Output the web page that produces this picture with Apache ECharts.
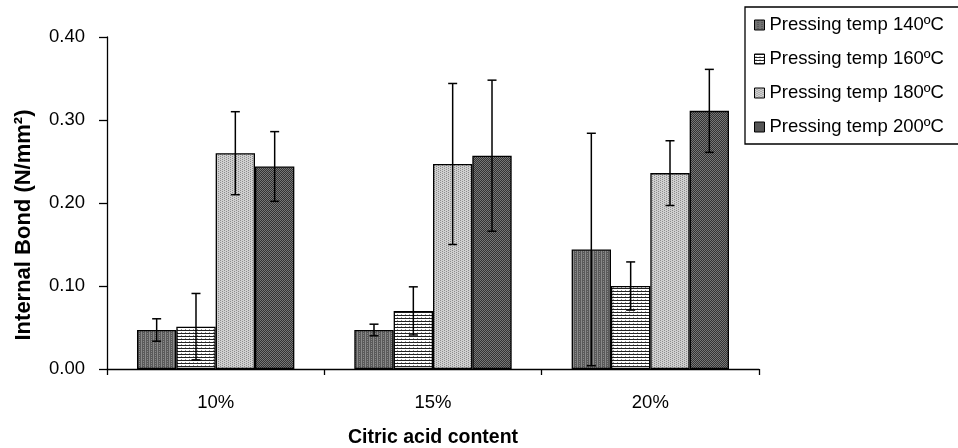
<!DOCTYPE html>
<html>
<head>
<meta charset="utf-8">
<script src="https://cdn.jsdelivr.net/npm/echarts@6/dist/echarts.min.js"></script>
<style>
  html, body { margin: 0; padding: 0; background: #fff; }
  #box1 { width: 958px; height: 448px; }
</style>
</head>
<body>
<div id="box1"></div>
<script>
var categories = ['10%', '15%', '20%'];
var seriesNames = ['Pressing temp 140ºC', 'Pressing temp 160ºC', 'Pressing temp 180ºC', 'Pressing temp 200ºC'];
var ib140 = [0.047, 0.047, 0.144];
var ib160 = [0.051, 0.070, 0.100];
var ib180 = [0.260, 0.247, 0.236];
var ib200 = [0.244, 0.257, 0.311];
var err140 = [0.0135, 0.007, 0.140];
var err160 = [0.040, 0.029, 0.029];
var err180 = [0.050, 0.097, 0.039];
var err200 = [0.042, 0.091, 0.050];
var yTicks = [0, 0.1, 0.2, 0.3, 0.4];

var means = [ib140, ib160, ib180, ib200];
var errs = [err140, err160, err180, err200];

// little canvases to fake the excel hatch fills
function makePattern(w, h, draw) {
  var c = document.createElement('canvas');
  c.width = w; c.height = h;
  var ctx = c.getContext('2d');
  draw(ctx);
  return { image: c, repeat: 'repeat' };
}
var fills = [
  makePattern(4, 2, function (ctx) {
    ctx.fillStyle = '#5a5a5a'; ctx.fillRect(0, 0, 4, 2);
    ctx.fillStyle = '#8a8a8a'; ctx.fillRect(1, 0, 1, 2); ctx.fillRect(3, 1, 1, 1);
  }),
  makePattern(4, 3, function (ctx) {
    ctx.fillStyle = '#ffffff'; ctx.fillRect(0, 0, 4, 3);
    ctx.fillStyle = '#222222'; ctx.fillRect(0, 0, 4, 1);
    ctx.fillStyle = '#999999'; ctx.fillRect(1, 2, 1, 1);
  }),
  makePattern(4, 2, function (ctx) {
    ctx.fillStyle = '#d0d0d0'; ctx.fillRect(0, 0, 4, 2);
    ctx.fillStyle = '#8c8c8c'; ctx.fillRect(0, 0, 1, 1); ctx.fillRect(2, 1, 1, 1);
  }),
  makePattern(2, 2, function (ctx) {
    ctx.fillStyle = '#333333'; ctx.fillRect(0, 0, 2, 2);
    ctx.fillStyle = '#777777'; ctx.fillRect(0, 0, 1, 1); ctx.fillRect(1, 1, 1, 1);
  })
];

var gapPct = 27.6;

var dom = document.getElementById('box1');
var myChart = echarts.init(dom);

var series = [];
seriesNames.forEach(function (name, i) {
  series.push({
    name: name,
    type: 'bar',
    data: means[i],
    barGap: '0%',
    barCategoryGap: gapPct + '%',
    itemStyle: { color: fills[i], borderColor: '#000', borderWidth: 1.3 },
    emphasis: { disabled: true }
  });
});
seriesNames.forEach(function (name, i) {
  series.push({
    type: 'custom',
    name: name + ' err',
    z: 10,
    data: categories.map(function (c, k) { return [k, means[i][k] - errs[i][k], means[i][k] + errs[i][k]]; }),
    encode: { x: 0, y: [1, 2] },
    renderItem: function (params, api) {
      var catW = api.size([1, 0])[0];
      var barW = catW * (1 - gapPct / 100) / 4;
      var lo = api.coord([api.value(0), api.value(1)]);
      var hi = api.coord([api.value(0), api.value(2)]);
      var x = lo[0] + (i - 1.5) * barW;
      var cap = 4.5;
      var st = { stroke: '#000', lineWidth: 1.5 };
      return {
        type: 'group',
        children: [
          { type: 'line', shape: { x1: x, y1: lo[1], x2: x, y2: hi[1] }, style: st },
          { type: 'line', shape: { x1: x - cap, y1: hi[1], x2: x + cap, y2: hi[1] }, style: st },
          { type: 'line', shape: { x1: x - cap, y1: lo[1], x2: x + cap, y2: lo[1] }, style: st }
        ]
      };
    }
  });
});

var option = {
  animation: false,
  textStyle: { fontFamily: 'Liberation Sans, Arial, sans-serif' },
  grid: { left: 107, right: 199, top: 37, bottom: 79, outerBoundsMode: 'none', containLabel: false },
  legend: {
    orient: 'vertical',
    left: 745,
    top: 7,
    data: seriesNames,
    icon: 'rect',
    itemWidth: 10,
    itemHeight: 10,
    itemGap: 14,
    itemStyle: { borderColor: '#000', borderWidth: 1 },
    padding: [8, 60, 7, 9],
    borderColor: '#000',
    borderWidth: 1.3,
    selectedMode: false,
    textStyle: { fontSize: 18.5, lineHeight: 20, color: '#000' }
  },
  xAxis: {
    type: 'category',
    data: categories,
    name: 'Citric acid content',
    nameLocation: 'middle',
    nameGap: 59,
    nameTextStyle: { fontSize: 19.5, fontWeight: 'bold', color: '#000' },
    axisLine: { lineStyle: { color: '#000', width: 1.3 } },
    axisTick: { show: true, length: 6, lineStyle: { color: '#000', width: 1.3 } },
    axisLabel: { fontSize: 18.5, color: '#000', margin: 24 }
  },
  yAxis: {
    type: 'value',
    min: 0,
    max: 0.4,
    interval: 0.1,
    name: 'Internal Bond (N/mm²)',
    nameLocation: 'middle',
    nameGap: 72,
    nameTextStyle: { fontSize: 22, fontWeight: 'bold', color: '#000', padding: [0, 44, 0, 0] },
    axisLine: { show: true, lineStyle: { color: '#000', width: 1.3 } },
    axisTick: { show: true, length: 8, lineStyle: { color: '#000', width: 1.3 } },
    splitLine: { show: false },
    axisLabel: {
      fontSize: 18.5, color: '#000', margin: 22,
      formatter: function (v) { return yTicks.indexOf(Math.round(v * 10) / 10) >= 0 ? v.toFixed(2) : ''; }
    }
  },
  series: series
};

if (option && typeof option === 'object') {
  myChart.setOption(option);
}
</script>
</body>
</html>
